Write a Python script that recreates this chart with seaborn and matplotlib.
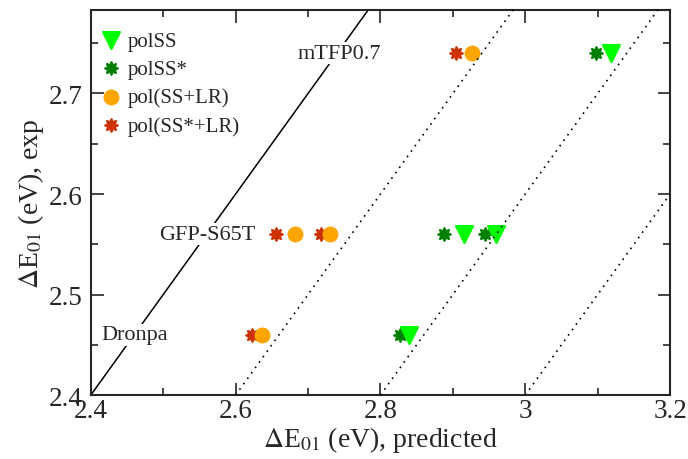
import numpy as np
import pandas as pd
import matplotlib
matplotlib.use('Agg')
import matplotlib.pyplot as plt
from matplotlib.ticker import MultipleLocator
import seaborn as sns

# experimental values for the three proteins
proteins = ['Dronpa', 'GFP-S65T', 'mTFP0.7']
exp_vals = {'Dronpa': 2.46, 'GFP-S65T': 2.56, 'mTFP0.7': 2.74}

# predicted values per method (GFP-S65T has two points each)
polSS_x = [2.840, 2.916, 2.959, 3.118]
polSS_y = [2.46, 2.56, 2.56, 2.74]
polSSs_x = [2.827, 2.888, 2.944, 3.097]
polSSs_y = [2.46, 2.56, 2.56, 2.74]
polSSLR_x = [2.637, 2.682, 2.731, 2.927]
polSSLR_y = [2.46, 2.56, 2.56, 2.74]
polSSsLR_x = [2.623, 2.656, 2.718, 2.905]
polSSsLR_y = [2.46, 2.56, 2.56, 2.74]

offsets = [0.2, 0.4, 0.6]  # dotted guide lines y = x - offset

sns.set_style('ticks')
plt.rcParams['font.family'] = ['Liberation Serif', 'DejaVu Serif']
plt.rcParams['mathtext.fontset'] = 'stix'

fig = plt.figure(figsize=(6.88, 4.6), dpi=100)
ax = fig.add_axes([0.132, 0.139, 0.842, 0.837])

xlim = (2.4, 3.2)
ylim = (2.4, 2.783)
xs = np.array(xlim)

ax.plot(xs, xs, color='black', lw=1.1, zorder=1)
for off in offsets:
    ax.plot(xs, xs - off, color='black', ls=(0, (1, 3)), lw=1.2, zorder=5)

star = (8, 1, 0)
series = [
    ('pol(SS*+LR)', polSSsLR_x, polSSsLR_y, '#cc3300', star, 80),
    ('pol(SS+LR)', polSSLR_x, polSSLR_y, '#ffa500', 'o', 95),
    ('polSS*', polSSs_x, polSSs_y, '#008000', star, 80),
    ('polSS', polSS_x, polSS_y, '#00ff00', 'v', 145),
]
for name, x, y, col, mk, sz in series:
    df = pd.DataFrame({'pred': x, 'exp': y})
    sns.scatterplot(data=df, x='pred', y='exp', ax=ax, color=col, marker=mk,
                    s=sz, edgecolor=col, linewidth=1.7, label=name, zorder=3)

# labels for the proteins
label_pos = {'Dronpa': 2.415, 'GFP-S65T': 2.495, 'mTFP0.7': 2.685}
for p in proteins:
    ax.text(label_pos[p], exp_vals[p], p, fontsize=16, va='center', ha='left',
            bbox=dict(facecolor='white', edgecolor='none', pad=1), zorder=2)

ax.set_xlim(*xlim)
ax.set_ylim(*ylim)
ax.xaxis.set_minor_locator(MultipleLocator(0.1))
ax.yaxis.set_major_locator(MultipleLocator(0.1))
ax.yaxis.set_minor_locator(MultipleLocator(0.05))
ax.set_xticks([2.4, 2.6, 2.8, 3.0, 3.2])
ax.set_xticklabels(['2.4', '2.6', '2.8', '3', '3.2'])
ax.tick_params(which='both', direction='in', top=True, right=True,
               labelsize=19.5, width=1.2)
ax.tick_params(axis='x', pad=2)
ax.tick_params(axis='y', pad=6)
ax.tick_params(which='major', length=9)
ax.tick_params(which='minor', length=5)
for s in ax.spines.values():
    s.set_linewidth(1.5)

ax.set_xlabel(r'$\Delta$E$_{01}$ (eV), predicted', fontsize=20, labelpad=1)
ax.set_ylabel(r'$\Delta$E$_{01}$ (eV), exp', fontsize=20, labelpad=2)

h, l = ax.get_legend_handles_labels()
order = ['polSS', 'polSS*', 'pol(SS+LR)', 'pol(SS*+LR)']
hh = [h[l.index(o)] for o in order]
ax.legend(hh, order, loc='upper left', bbox_to_anchor=(0.006, 0.962),
          frameon=False, fontsize=15, handletextpad=0.3, labelspacing=0.42,
          borderaxespad=0, borderpad=0.3, handlelength=1.0)

fig.savefig('out.png', dpi=100)
